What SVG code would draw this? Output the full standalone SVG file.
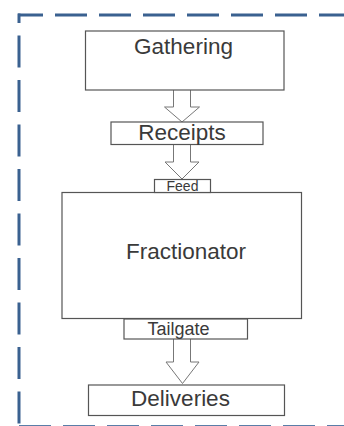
<svg xmlns="http://www.w3.org/2000/svg" width="344" height="426" viewBox="0 0 344 426">
<style>
.box{fill:#fff;stroke:#555;stroke-width:1.2}
.lbl{font-family:"Liberation Sans",Arial,sans-serif;fill:#3a3a3a;text-anchor:middle}
.arr{fill:#fff;stroke:#777;stroke-width:1}
.dash{fill:none;stroke:#3a6190;stroke-width:3;stroke-dasharray:32 12}
</style>
<rect width="344" height="426" fill="#fff"/>
<g id="border">
<path class="dash" d="M18 15 H344" stroke-dashoffset="7"/>
<path class="dash" d="M19 13.5 V426" style="stroke-dasharray:32 12.5" stroke-dashoffset="22.5"/>
<path class="dash" d="M19 426.4 H344" style="stroke:#5a7ea8"/>
</g>
<g id="connectors">
<path class="arr" d="M173.5 90 V107 H164.5 L182 122 L199.5 107 H190.5 V90"/>
<path class="arr" d="M173.5 144 V162 H165 L182 179 L199 162 H190.5 V144"/>
<path class="arr" d="M173.5 339 V362 H166 L182.5 383.5 L199 362 H190.5 V339"/>
</g>
<g id="gathering">
<rect class="box" x="85.5" y="31" width="198.5" height="59"/>
<text class="lbl" x="183.5" y="54" font-size="22.5">Gathering</text>
</g>
<g id="receipts">
<rect class="box" x="111" y="122" width="152" height="22.5"/>
<text class="lbl" x="182" y="139.5" font-size="22.5">Receipts</text>
</g>
<g id="fractionator">
<rect class="box" x="62" y="192.5" width="239.5" height="126"/>
<text class="lbl" x="186" y="259" font-size="22.5">Fractionator</text>
</g>
<g id="feed">
<rect class="box" x="154.5" y="179.5" width="56" height="13"/>
<text class="lbl" x="182.5" y="191.3" font-size="14">Feed</text>
</g>
<g id="tailgate">
<rect class="box" x="124" y="319" width="123.5" height="20"/>
<text class="lbl" x="178.5" y="334.7" font-size="18">Tailgate</text>
</g>
<g id="deliveries">
<rect class="box" x="88.5" y="385" width="196" height="30.5"/>
<text class="lbl" x="180.5" y="405.7" font-size="22.5">Deliveries</text>
</g>
</svg>
